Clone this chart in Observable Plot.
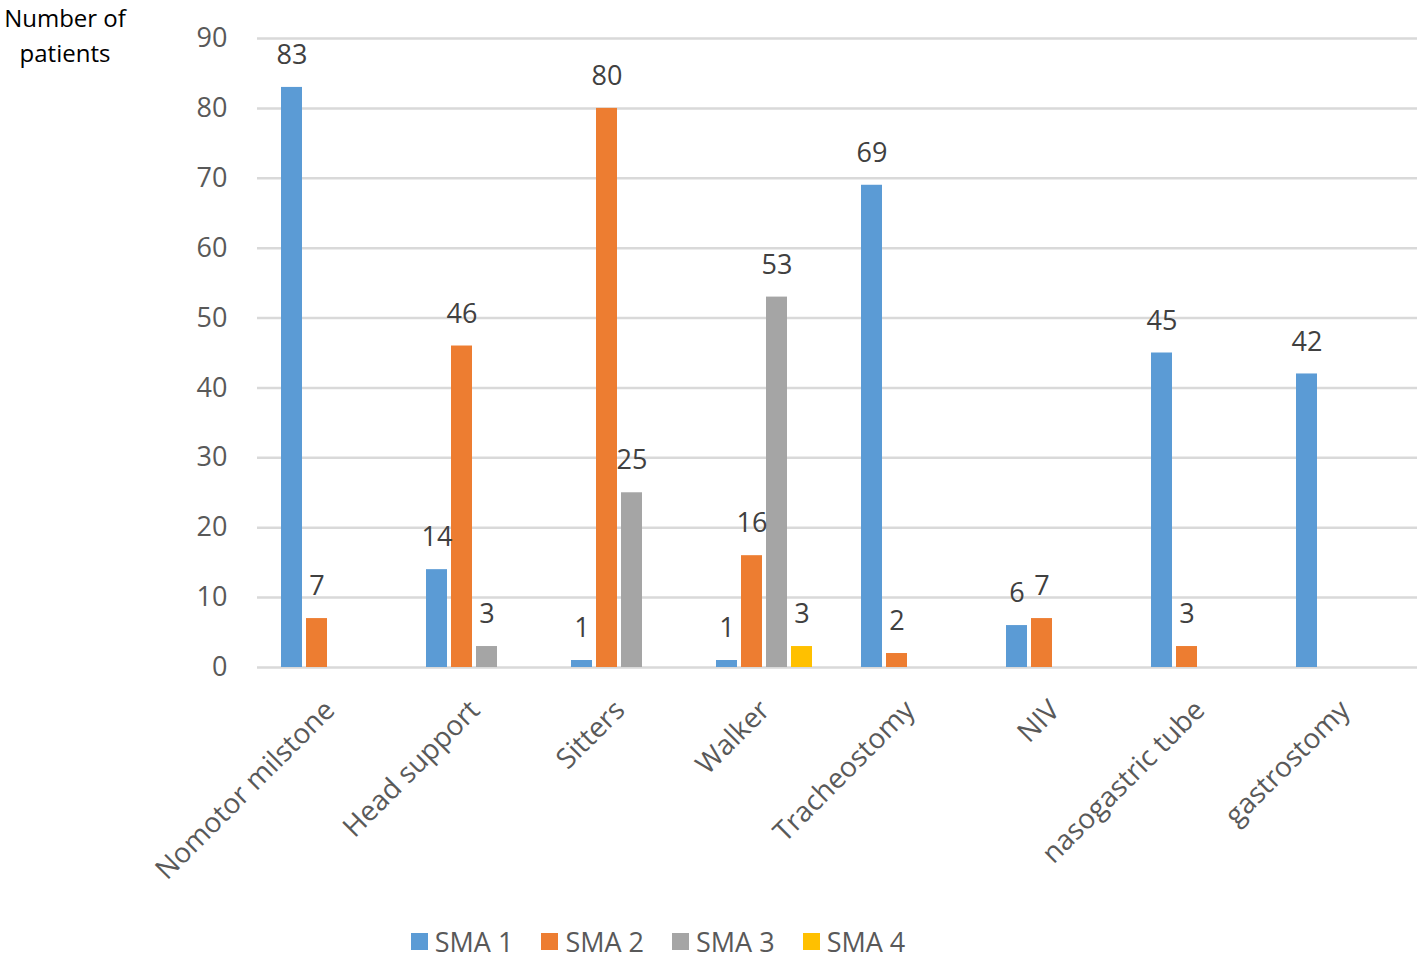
<!DOCTYPE html>
<html>
<head>
<meta charset="utf-8">
<script src="https://cdn.jsdelivr.net/npm/d3@7"></script>
<script src="https://cdn.jsdelivr.net/npm/@observablehq/plot@0.6"></script>
<style>
  html, body { margin: 0; padding: 0; background: #fff; }
  #wrap { position: relative; width: 1421px; height: 962px; font-family: "Open Sans", sans-serif; }
  #ylabel { position: absolute; left: 0; top: 0px; width: 130px; text-align: center; font-size: 24px; line-height: 35px; color: #000; }
  #legend { position: absolute; left: 0; top: 923px; width: 1421px; display: flex; justify-content: center; align-items: center; gap: 28px; font-size: 27px; color: #595959; padding-right: 105px; box-sizing: border-box;}
  .item { display: flex; align-items: center; gap: 7px; }
  .sw { width: 17px; height: 17px; display: inline-block; }
</style>
</head>
<body>
<div id="wrap">
  <div id="chart"></div>
  <div id="ylabel">Number of<br>patients</div>
  <div id="legend"></div>
</div>
<script>
const categories = ["Nomotor milstone", "Head support", "Sitters", "Walker", "Tracheostomy", "NIV", "nasogastric tube", "gastrostomy"];
const series = ["SMA 1", "SMA 2", "SMA 3", "SMA 4"];
const sma1 = [83, 14, 1, 1, 69, 6, 45, 42];
const sma2 = [7, 46, 80, 16, 2, 7, 3, 0];
const sma3 = [0, 3, 25, 53, 0, 0, 0, 0];
const sma4 = [0, 0, 0, 3, 0, 0, 0, 0];
const colors = ["#5B9BD5", "#ED7D31", "#A5A5A5", "#FFC000"];
const yTicks = [0, 10, 20, 30, 40, 50, 60, 70, 80, 90];

const valuesBySeries = [sma1, sma2, sma3, sma4];
const rows = [];
categories.forEach((c, i) => {
  series.forEach((s, j) => {
    const v = valuesBySeries[j][i];
    if (v > 0) rows.push({category: c, series: s, value: v});
  });
});

const chart = Plot.plot({
  width: 1421,
  height: 900,
  marginLeft: 255,
  marginRight: 3,
  marginTop: 38,
  marginBottom: 233,
  style: {fontFamily: "'Open Sans', sans-serif", fontSize: "26px", color: "#595959", background: "#fff"},
  fx: {domain: categories, padding: 0, label: null},
  x: {domain: series, axis: null, paddingInner: 0.154, paddingOuter: 0.866},
  y: {domain: [0, 90], label: null},
  color: {domain: series, range: colors},
  marks: [
    Plot.ruleY(yTicks, {stroke: "#D9D9D9", strokeWidth: 2.5}),
    Plot.axisY({ticks: yTicks, tickSize: 0, tickPadding: 30, fontSize: 27, label: null, fill: "#595959"}),
    Plot.axisFx({anchor: "bottom", tickRotate: -45, tickSize: 0, tickPadding: 38, fontSize: 28, label: null, fill: "#595959"}),
    Plot.barY(rows, {fx: "category", x: "series", y: "value", fill: "series"}),
    Plot.text(rows, {fx: "category", x: "series", y: "value", text: d => String(d.value), dy: -32, fill: "#404040", fontSize: 27, textAnchor: "middle", lineAnchor: "middle"})
  ]
});
document.getElementById("chart").appendChild(chart);

const legend = document.getElementById("legend");
series.forEach((s, i) => {
  const item = document.createElement("div");
  item.className = "item";
  const sw = document.createElement("span");
  sw.className = "sw";
  sw.style.background = colors[i];
  const t = document.createElement("span");
  t.textContent = s;
  item.appendChild(sw);
  item.appendChild(t);
  legend.appendChild(item);
});
</script>
</body>
</html>
